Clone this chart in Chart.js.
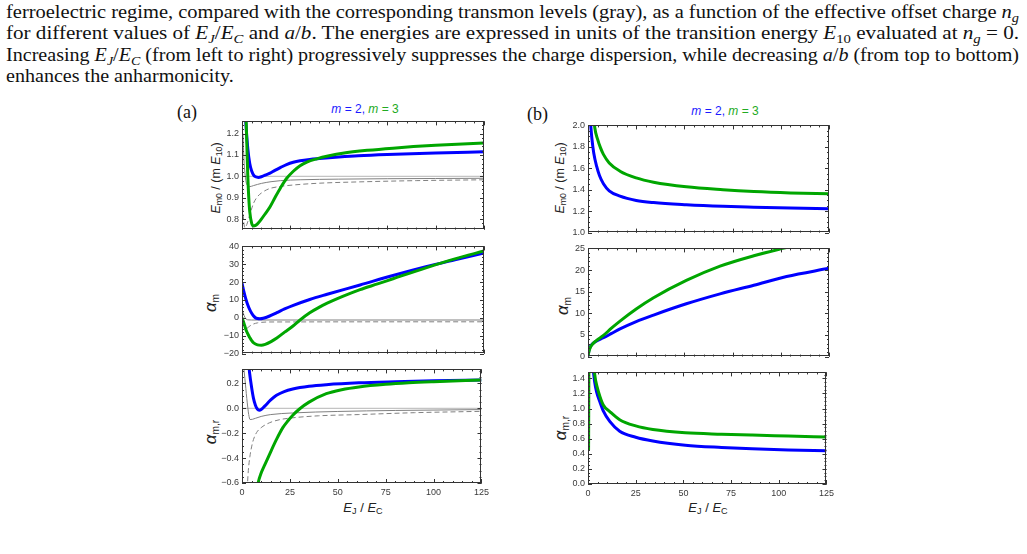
<!DOCTYPE html>
<html>
<head>
<meta charset="utf-8">
<title>Ferroelectric levels</title>
<script src="https://cdn.jsdelivr.net/npm/chart.js@4.4.0/dist/chart.umd.min.js"></script>
<style>
  html, body { margin: 0; padding: 0; background: #fff; overflow: hidden; }
  body { width: 1027px; height: 554px; position: relative; }
  .cap { position: absolute; left: 6px; font-family: 'Liberation Serif', serif; font-size: 18px;
         white-space: nowrap; transform-origin: left top; color: #111; line-height: 20px; }
  .cap sub, .lbl sub { font-size: 70%; vertical-align: -0.28em; line-height: 0; }
  .lbl { position: absolute; white-space: nowrap; font-family: 'Liberation Sans', Arial, sans-serif;
         color: #222; transform: translate(-50%, -50%); }
  .rot { transform: translate(-50%, -50%) rotate(-90deg); }
  .pan { position: absolute; font-family: 'Liberation Serif', serif; font-size: 18px; color: #111; }
  canvas { position: absolute; }
</style>
</head>
<body>

<!-- caption text -->
<div class="cap" id="cap1" style="top:2px">ferroelectric regime, compared with the corresponding transmon levels (gray), as a function of the effective offset charge <i>n<sub>g</sub></i></div>
<div class="cap" id="cap2" style="top:23px">for different values of <i>E<sub>J</sub></i>/<i>E<sub>C</sub></i> and <i>a</i>/<i>b</i>. The energies are expressed in units of the transition energy <i>E</i><sub>10</sub> evaluated at <i>n<sub>g</sub></i> = 0.</div>
<div class="cap" id="cap3" style="top:45px">Increasing <i>E<sub>J</sub></i>/<i>E<sub>C</sub></i> (from left to right) progressively suppresses the charge dispersion, while decreasing <i>a</i>/<i>b</i> (from top to bottom)</div>
<div class="cap" id="cap4" style="top:66px">enhances the anharmonicity.</div>

<div class="pan" style="left:177px; top:102px">(a)</div>
<div class="pan" style="left:527px; top:104px">(b)</div>

<div class="lbl" style="left:365px; top:109px; font-size:12px"><span style="color:#1a1aff"><i>m</i> = 2,</span> <span style="color:#22aa22"><i>m</i> = 3</span></div>
<div class="lbl" style="left:725px; top:111px; font-size:12px"><span style="color:#1a1aff"><i>m</i> = 2,</span> <span style="color:#22aa22"><i>m</i> = 3</span></div>

<div class="lbl rot" style="left:216px; top:178px; font-size:12.5px"><i>E</i><sub>m0</sub> / (m <i>E</i><sub>10</sub>)</div>
<div class="lbl rot" style="left:211px; top:303px; font-size:17px"><i>α</i><sub style="font-size:60%">m</sub></div>
<div class="lbl rot" style="left:211px; top:432px; font-size:17px"><i>α</i><sub style="font-size:60%">m,r</sub></div>
<div class="lbl rot" style="left:560px; top:178px; font-size:12.5px"><i>E</i><sub>m0</sub> / (m <i>E</i><sub>10</sub>)</div>
<div class="lbl rot" style="left:563px; top:306px; font-size:17px"><i>α</i><sub style="font-size:60%">m</sub></div>
<div class="lbl rot" style="left:561px; top:428px; font-size:17px"><i>α</i><sub style="font-size:60%">m,r</sub></div>

<div class="lbl" style="left:363px; top:507px; font-size:13px"><i>E</i><sub>J</sub> / <i>E</i><sub>C</sub></div>
<div class="lbl" style="left:708px; top:507px; font-size:13px"><i>E</i><sub>J</sub> / <i>E</i><sub>C</sub></div>

<canvas id="aTop"></canvas>
<canvas id="aMid"></canvas>
<canvas id="aBot"></canvas>
<canvas id="bTop"></canvas>
<canvas id="bMid"></canvas>
<canvas id="bBot"></canvas>

<script>
// ---------------------------------------------------------------- datos --- //

// eje x comun (E_J / E_C)
const xTicks = [0, 25, 50, 75, 100, 125];

// (a) arriba: E_m0 / (m E_10)
const aTopTicks = [0.8, 0.9, 1.0, 1.1, 1.2];
const aTopX_m2 = [1.5, 2, 3, 4, 5, 6, 7, 8.5, 10, 12, 14.5, 17, 20, 23, 26.5, 30, 35, 40, 50, 60, 75, 100, 125];
const aTopY_m2 = [1.35, 1.25, 1.13, 1.06, 1.025, 1.006, 0.998, 0.995, 0.998, 1.006, 1.015, 1.028, 1.042, 1.055, 1.066, 1.073, 1.079, 1.083, 1.09, 1.096, 1.102, 1.109, 1.115];
const aTopX_m3 = [2, 2.5, 3, 3.5, 4, 5, 6, 7, 8, 10, 12, 14.5, 17, 20, 23, 26.5, 30, 33.5, 38.6, 45, 52, 65, 78, 100, 125];
const aTopY_m3 = [1.3, 1.15, 1.0, 0.9, 0.835, 0.78, 0.768, 0.771, 0.778, 0.8, 0.825, 0.858, 0.9, 0.948, 0.99, 1.024, 1.05, 1.067, 1.082, 1.096, 1.108, 1.122, 1.132, 1.145, 1.156];
const aTopX_tr = [0.5, 1, 2, 3, 4, 6, 10, 15, 20, 30, 50, 75, 100, 125];
const aTopY_tr = [1.2, 1.08, 0.98, 0.956, 0.952, 0.957, 0.967, 0.975, 0.98, 0.984, 0.987, 0.989, 0.99, 0.991];
const aTopX_trd = [0.3, 1, 1.5, 2.5, 4, 6, 8, 10, 14, 20, 27, 40, 60, 90, 125];
const aTopY_trd = [0.86, 0.78, 0.76, 0.775, 0.82, 0.875, 0.905, 0.922, 0.942, 0.953, 0.96, 0.968, 0.974, 0.98, 0.984];
const aTopX_ref = [0, 125];
const aTopY_ref = [1.0, 1.0];

// (a) medio: alpha_m
const aMidTicks = [-20, -10, 0, 10, 20, 30, 40];
const aMidX_m2 = [0, 1, 2, 3, 4, 5, 6, 7, 8, 9.3, 11, 14, 18, 22, 26.5, 35, 44, 61, 78, 95, 110, 125];
const aMidY_m2 = [19.5, 14.5, 10.5, 7.2, 4.6, 2.6, 1.0, 0.0, -0.4, -0.5, -0.2, 0.9, 2.9, 5, 7, 10.3, 13.2, 18.4, 23.7, 28.6, 32.5, 36.3];
const aMidX_m3 = [0, 1, 2, 3, 4, 5, 6, 8, 10, 12, 15, 18, 22, 26.5, 30, 35, 40, 44, 52, 61, 70, 78, 95, 110, 125];
const aMidY_m3 = [0, -3, -6.5, -9, -11, -12.8, -14, -15.1, -15.3, -14.8, -13.3, -11.3, -8, -4.4, -1.2, 2.8, 6, 8.2, 12, 15.8, 19, 21.9, 28, 33, 37.4];
const aMidX_tr = [0, 1, 2, 3, 5, 125];
const aMidY_tr = [5, 1.5, -0.5, -1.1, -1.2, -1.2];
const aMidX_trd = [2.5, 4, 6, 8, 10, 14, 125];
const aMidY_trd = [-6, -4.6, -3.4, -2.8, -2.5, -2.3, -2.2];

// (a) abajo: alpha_m,r
const aBotTicks = [-0.6, -0.4, -0.2, 0.0, 0.2];
const aBotX_m2 = [3.5, 4, 5, 6, 7, 8, 9, 10, 12, 15, 18, 22, 26.5, 35, 44, 61, 80, 100, 125];
const aBotY_m2 = [0.36, 0.28, 0.17, 0.08, 0.025, -0.005, -0.015, -0.01, 0.02, 0.068, 0.105, 0.135, 0.155, 0.177, 0.19, 0.205, 0.214, 0.221, 0.228];
const aBotX_m3 = [7.5, 8.4, 10, 12, 14.5, 18, 21.3, 24, 26.5, 30, 35, 44, 52, 61, 75, 87, 100, 125];
const aBotY_m3 = [-0.68, -0.6, -0.52, -0.45, -0.365, -0.25, -0.155, -0.1, -0.055, -0.005, 0.05, 0.118, 0.15, 0.172, 0.193, 0.205, 0.214, 0.228];
const aBotX_tr = [0.9, 1.5, 2, 2.5, 3, 3.5, 4.2, 5.5, 7, 10, 15, 26.5, 50, 80, 125];
const aBotY_tr = [0.33, 0.24, 0.16, 0.08, 0.01, -0.05, -0.09, -0.088, -0.08, -0.065, -0.05, -0.037, -0.025, -0.017, -0.01];
const aBotX_trd = [2.7, 3.3, 4.1, 5, 6, 7.6, 10, 14.5, 20, 26.5, 40, 61, 90, 125];
const aBotY_trd = [-0.65, -0.5, -0.39, -0.31, -0.25, -0.195, -0.155, -0.115, -0.09, -0.076, -0.06, -0.05, -0.035, -0.024];
const aBotX_ref = [0, 125];
const aBotY_ref = [0, 0];

// (b) arriba
const bTopTicks = [1.0, 1.2, 1.4, 1.6, 1.8, 2.0];
const bTopX_m2 = [1.2, 2, 3, 4.5, 6, 8, 11, 16.6, 25, 34, 51, 70, 86, 105, 125];
const bTopY_m2 = [2.05, 1.88, 1.74, 1.617, 1.53, 1.456, 1.39, 1.34, 1.3, 1.28, 1.26, 1.245, 1.237, 1.229, 1.222];
const bTopX_m3 = [2.8, 3.5, 5, 6.5, 8, 11, 16.6, 25, 34, 51, 70, 86, 105, 125];
const bTopY_m3 = [2.12, 1.98, 1.87, 1.79, 1.73, 1.65, 1.573, 1.51, 1.47, 1.427, 1.4, 1.383, 1.37, 1.362];

// (b) medio
const bMidTicks = [0, 5, 10, 15, 20, 25];
const bMidX_m2 = [0, 0.5, 1, 2, 4, 8, 12, 16.6, 25, 34, 51, 68.5, 86, 103, 125];
const bMidY_m2 = [0, 1.5, 2.1, 2.8, 3.5, 4.35, 5.3, 6.4, 8.1, 9.6, 12.2, 14.5, 16.5, 18.5, 20.4];
const bMidX_m3 = [0, 0.5, 1, 2, 4, 8, 12, 16.6, 25, 34, 51, 68.5, 86, 101, 125];
const bMidY_m3 = [0, 1.2, 1.9, 2.7, 3.6, 4.9, 6.5, 8.2, 11, 13.6, 17.6, 20.9, 23.3, 25.0, 27.5];

// (b) abajo
const bBotTicks = [0.0, 0.2, 0.4, 0.6, 0.8, 1.0, 1.2, 1.4];
const bBotX_m2 = [2.8, 3.5, 4.5, 6.2, 8, 11.4, 16.6, 25, 34, 51, 70, 86, 105, 125];
const bBotY_m2 = [1.5, 1.35, 1.22, 1.09, 0.97, 0.83, 0.7, 0.62, 0.57, 0.515, 0.485, 0.467, 0.452, 0.44];
const bBotX_m3 = [0.3, 0.5, 3.1, 4, 5.5, 8, 11.4, 16.6, 25, 34, 51, 70, 86, 105, 125];
const bBotY_m3 = [0.45, 1.6, 1.52, 1.37, 1.22, 1.046, 0.96, 0.852, 0.77, 0.722, 0.679, 0.66, 0.648, 0.636, 0.623];

// ---------------------------------------------------------------- estilo --- //

const BLUE = '#0000ff';
const GREEN = '#00a600';
const GRAY = '#808080';
const LIGHT = '#c4c4c4';

const pts = (xs, ys) => xs.map((x, i) => ({ x: x, y: ys[i] }));

const curve = (xs, ys, color, width, order, dash) => ({
    data: pts(xs, ys),
    borderColor: color,
    borderWidth: width,
    borderDash: dash || [],
    order: order,
    pointRadius: 0,
    fill: false,
    cubicInterpolationMode: 'monotone'
});

// marco con marcas hacia dentro en los cuatro lados (estilo Mathematica)
const frameTicks = {
    id: 'frameTicks',
    afterDatasetsDraw(chart, args, o) {
        const { ctx, chartArea: a } = chart;
        const mark = (scale, step, len) => {
            const i0 = Math.ceil(scale.min / step - 1e-6);
            const i1 = Math.floor(scale.max / step + 1e-6);
            for (let i = i0; i <= i1; i++) {
                const p = Math.round(scale.getPixelForValue(i * step)) + 0.5;
                if (scale.axis === 'x') {
                    ctx.moveTo(p, a.bottom); ctx.lineTo(p, a.bottom - len);
                    ctx.moveTo(p, a.top); ctx.lineTo(p, a.top + len);
                } else {
                    ctx.moveTo(a.left, p); ctx.lineTo(a.left + len, p);
                    ctx.moveTo(a.right, p); ctx.lineTo(a.right - len, p);
                }
            }
        };
        ctx.save();
        ctx.strokeStyle = '#333';
        ctx.lineWidth = 1;
        ctx.beginPath();
        mark(chart.scales.x, 25, 4);
        mark(chart.scales.x, 5, 2);
        mark(chart.scales.y, o.major, 4);
        mark(chart.scales.y, o.minor, 2);
        ctx.stroke();
        ctx.strokeRect(Math.round(a.left) + 0.5, Math.round(a.top) + 0.5,
                       Math.round(a.right - a.left) - 1, Math.round(a.bottom - a.top) - 1);
        ctx.restore();
    }
};

const fmt = (v, dec) => (v < 0 ? '\u2212' : '') + Math.abs(v).toFixed(dec);

// cada subgrafico: caja del area de trazado en pixeles de pagina
function drawPanel(id, box, yMin, yMax, yTicks, dec, minor, showX, datasets) {
    const PADL = 40, PADT = 6, PADR = 9;
    const xh = showX ? 16 : 4;
    const canvas = document.getElementById(id);
    canvas.width = box.w + PADL + PADR;
    canvas.height = box.h + PADT + xh;
    canvas.style.left = (box.left - PADL) + 'px';
    canvas.style.top = (box.top - PADT) + 'px';

    const tickFont = { family: "'Liberation Sans', Arial, sans-serif", size: 9 };

    new Chart(canvas.getContext('2d'), {
        type: 'line',
        data: { datasets: datasets },
        options: {
            responsive: false,
            animation: false,
            devicePixelRatio: 1,
            layout: { padding: { left: 0, top: PADT, right: PADR, bottom: 0 } },
            plugins: {
                legend: { display: false },
                tooltip: { enabled: false },
                frameTicks: { major: yTicks[1] - yTicks[0], minor: minor }
            },
            scales: {
                x: {
                    type: 'linear',
                    min: 0,
                    max: 125,
                    grid: { display: false, drawTicks: false },
                    border: { display: false },
                    afterBuildTicks: (s) => { s.ticks = xTicks.map(v => ({ value: v })); },
                    afterFit: (s) => { s.height = xh; },
                    ticks: {
                        display: showX,
                        padding: 4,
                        maxRotation: 0,
                        autoSkip: false,
                        color: '#3a3a3a',
                        font: tickFont,
                        callback: (v) => String(v)
                    }
                },
                y: {
                    type: 'linear',
                    min: yMin,
                    max: yMax,
                    grid: { display: false, drawTicks: false },
                    border: { display: false },
                    afterBuildTicks: (s) => { s.ticks = yTicks.map(v => ({ value: v })); },
                    afterFit: (s) => { s.width = PADL; },
                    ticks: {
                        padding: 3,
                        autoSkip: false,
                        color: '#3a3a3a',
                        font: tickFont,
                        callback: (v) => fmt(v, dec)
                    }
                }
            }
        },
        plugins: [frameTicks]
    });
}

// ---------------------------------------------------------------- panel (a) --- //

drawPanel('aTop', { left: 242, top: 119, w: 242, h: 115 }, 0.751, 1.257, aTopTicks, 1, 0.02, false, [
    curve(aTopX_m3, aTopY_m3, GREEN, 3, 0),
    curve(aTopX_m2, aTopY_m2, BLUE, 3, 1),
    curve(aTopX_tr, aTopY_tr, GRAY, 1, 2),
    curve(aTopX_trd, aTopY_trd, GRAY, 1, 3, [5, 3]),
    curve(aTopX_ref, aTopY_ref, LIGHT, 1.2, 4)
]);

drawPanel('aMid', { left: 242, top: 244, w: 242, h: 114 }, -20, 40, aMidTicks, 0, 2, false, [
    curve(aMidX_m3, aMidY_m3, GREEN, 3, 0),
    curve(aMidX_m2, aMidY_m2, BLUE, 3, 1),
    curve(aMidX_tr, aMidY_tr, GRAY, 1, 2),
    curve(aMidX_trd, aMidY_trd, GRAY, 1, 3, [5, 3])
]);

drawPanel('aBot', { left: 242, top: 367, w: 242, h: 116 }, -0.6, 0.313, aBotTicks, 1, 0.05, true, [
    curve(aBotX_m3, aBotY_m3, GREEN, 3, 0),
    curve(aBotX_m2, aBotY_m2, BLUE, 3, 1),
    curve(aBotX_tr, aBotY_tr, GRAY, 1, 2),
    curve(aBotX_trd, aBotY_trd, GRAY, 1, 3, [5, 3]),
    curve(aBotX_ref, aBotY_ref, LIGHT, 1.2, 4)
]);

// ---------------------------------------------------------------- panel (b) --- //

drawPanel('bTop', { left: 588, top: 123, w: 241, h: 114 }, 1.0, 2.0, bTopTicks, 1, 0.05, false, [
    curve(bTopX_m3, bTopY_m3, GREEN, 3, 0),
    curve(bTopX_m2, bTopY_m2, BLUE, 3, 1)
]);

drawPanel('bMid', { left: 588, top: 246, w: 241, h: 115 }, 0, 25, bMidTicks, 0, 1, false, [
    curve(bMidX_m3, bMidY_m3, GREEN, 3, 0),
    curve(bMidX_m2, bMidY_m2, BLUE, 3, 1)
]);

drawPanel('bBot', { left: 588, top: 370, w: 241, h: 114 }, 0, 1.479, bBotTicks, 1, 0.05, true, [
    curve(bBotX_m3, bBotY_m3, GREEN, 3, 0),
    curve(bBotX_m2, bBotY_m2, BLUE, 3, 1)
]);

// ---------------------------------------------------------------- texto --- //

// ajustar el ancho de las lineas del pie como texto justificado
const capWidth = 1013;
let lastScale = 1;
['cap1', 'cap2', 'cap3'].forEach(id => {
    const el = document.getElementById(id);
    lastScale = capWidth / el.getBoundingClientRect().width;
    el.style.transform = `scaleX(${lastScale})`;
});
document.getElementById('cap4').style.transform = `scaleX(${lastScale})`;
</script>
</body>
</html>
